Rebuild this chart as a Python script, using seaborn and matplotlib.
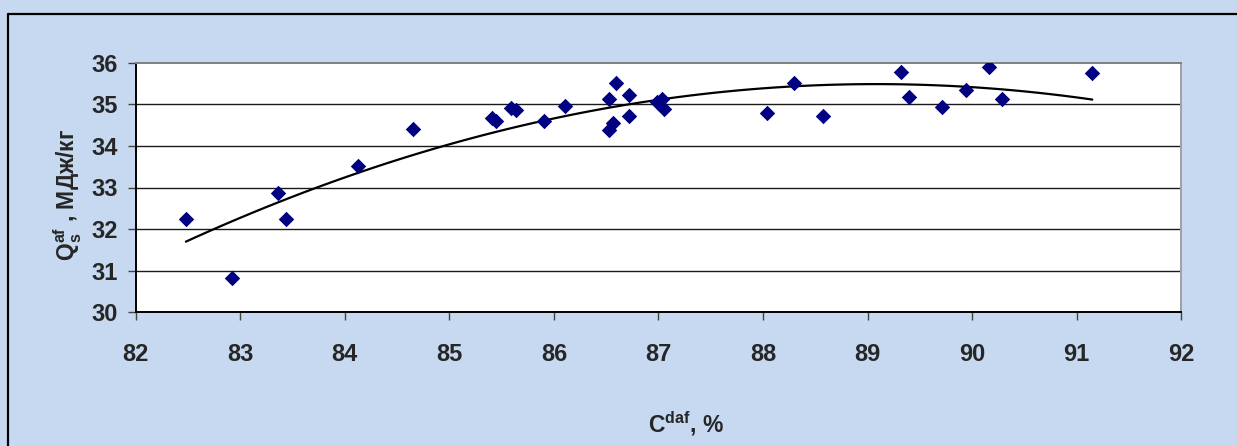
import numpy as np
import pandas as pd
import matplotlib
matplotlib.use("Agg")
import matplotlib.pyplot as plt
import seaborn as sns
from matplotlib.lines import Line2D
from matplotlib import font_manager

# Carbon content (daf, %) vs specific heat of combustion (MJ/kg)
c_daf = [82.48, 82.92, 83.36, 83.44, 84.13, 84.65, 85.41, 85.45, 85.59, 85.64,
         85.91, 86.11, 86.53, 86.59, 86.72, 86.72, 86.53, 86.57, 86.99, 87.03,
         87.05, 88.04, 88.30, 88.57, 89.32, 89.40, 89.71, 89.94, 90.16, 90.29,
         91.15]
q_af = [32.24, 30.82, 32.86, 32.24, 33.51, 34.41, 34.66, 34.60, 34.90, 34.87,
        34.60, 34.96, 35.12, 35.52, 35.22, 34.73, 34.38, 34.55, 35.06, 35.12,
        34.88, 34.78, 35.52, 34.73, 35.78, 35.18, 34.93, 35.34, 35.90, 35.12,
        35.76]
x_ticks = list(range(82, 93))
y_ticks = list(range(30, 37))

df = pd.DataFrame({"C": c_daf, "Q": q_af})

# narrow font if the system has one, otherwise plain Liberation Sans
installed = {f.name for f in font_manager.fontManager.ttflist}
narrow = "Liberation Sans Narrow" if "Liberation Sans Narrow" in installed else "Liberation Sans"

bg = "#c6d9f0"
sns.set_style("ticks")
plt.rcParams["font.family"] = [narrow, "DejaVu Sans"]
plt.rcParams["font.weight"] = "bold"
plt.rcParams["mathtext.fontset"] = "custom"
plt.rcParams["mathtext.rm"] = narrow + ":bold"
plt.rcParams["mathtext.bf"] = narrow + ":bold"
plt.rcParams["mathtext.it"] = narrow + ":bold"

W, H = 1237, 446
fig = plt.figure(figsize=(W / 100, H / 100), dpi=100, facecolor=bg)
ax = fig.add_axes([135.7 / W, 1 - 312.3 / H, 1045.5 / W, 249.6 / H])
ax.set_facecolor("white")

# outer chart frame: only its top and left edges fall inside the image
fx, fy = 8 / W, 1 - 13.5 / H
fig.add_artist(Line2D([fx, 1.0], [fy, fy], transform=fig.transFigure,
                      color="black", linewidth=1.6))
fig.add_artist(Line2D([fx, fx], [0.0, fy], transform=fig.transFigure,
                      color="black", linewidth=1.6))

for yv in y_ticks[1:-1]:
    ax.axhline(yv, color="#1a1a1a", linewidth=1.0, zorder=0.5)

sns.regplot(data=df, x="C", y="Q", order=2, ci=None, scatter=False, ax=ax,
            line_kws={"color": "black", "linewidth": 1.6})
sns.scatterplot(data=df, x="C", y="Q", marker="D", s=62, color="#000080",
                linewidth=0, ax=ax, zorder=3)

ax.set_xlim(82, 92)
ax.set_ylim(30, 36)
ax.set_xticks(x_ticks)
ax.set_yticks(y_ticks)
ax.tick_params(axis="x", direction="out", length=6, width=1.0, color="#444444",
               pad=16, labelsize=17)
ax.tick_params(axis="y", direction="out", length=6, width=1.0, color="#444444",
               pad=7, labelsize=17)
for lab in ax.get_xticklabels() + ax.get_yticklabels():
    lab.set_fontweight("bold")

ax.spines["left"].set_color("black")
ax.spines["bottom"].set_color("black")
ax.spines["top"].set_color("#808080")
ax.spines["right"].set_color("#a0a0a0")
for sp in ax.spines.values():
    sp.set_visible(True)
    sp.set_linewidth(1.4)

ax.set_xlabel(r"C$^{\mathrm{daf}}$, %", fontsize=16.5, fontweight="bold")
ax.set_ylabel(r"Q$_{\mathrm{s}}^{\mathrm{af}}$ , МДж/кг", fontsize=16.5, fontweight="bold",
              family=["Liberation Sans", "DejaVu Sans"])
ax.xaxis.set_label_coords(0.526, -0.39)
ax.yaxis.set_label_coords(-0.049, 0.47)

fig.savefig("out.png", dpi=100, facecolor=bg)
